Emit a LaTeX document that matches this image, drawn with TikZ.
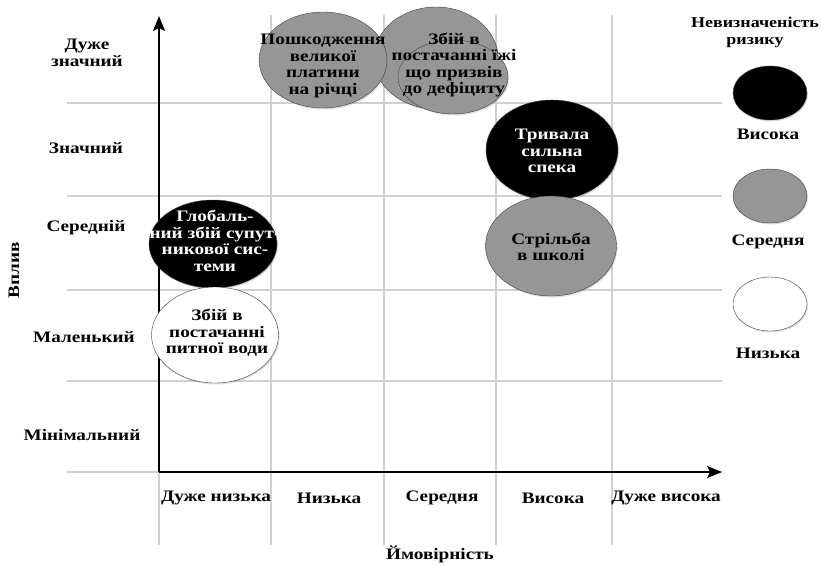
\documentclass[tikz,border=0pt]{standalone}
\usepackage{fontspec}
\setmainfont{Liberation Serif}[FakeStretch=1.2]
\usetikzlibrary{shapes.geometric,shadows,arrows.meta}
\definecolor{riskgray}{RGB}{150,150,150}
\definecolor{gridgray}{RGB}{208,208,208}

\begin{document}
\begin{tikzpicture}[x=1pt,y=-1pt,
    font=\fontsize{16}{16.5}\selectfont\bfseries,
    gridline/.style={gridgray,line width=1.2pt},
    axis/.style={line width=2.2pt,-{Stealth[length=15pt,width=12pt,inset=3pt]}},
    bubble/.style={ellipse,draw=black!75,thin,inner sep=0pt,
      drop shadow={opacity=0.25,shadow xshift=1pt,shadow yshift=-1.5pt}}]
  \useasboundingbox (0,0) rectangle (821,565);

  % grid
  \draw[gridline] (67,103) -- (722,103);
  \draw[gridline] (67,196) -- (722,196);
  \draw[gridline] (67,290) -- (722,290);
  \draw[gridline] (67,381) -- (722,381);
  \draw[gridline] (67,472) -- (722,472);
  \draw[gridline] (159,472) -- (159,545);
  \draw[gridline] (271,15) -- (271,545);
  \draw[gridline] (384,15) -- (384,545);
  \draw[gridline] (496,15) -- (496,545);
  \draw[gridline] (612,15) -- (612,545);

  % axes
  \coordinate (O) at (159,472);
  \coordinate (ytip) at (159,16);
  \coordinate (xtip) at (722,472);
  \draw[axis] (O) -- (ytip);
  \draw[axis] (O) -- (xtip);

  % row and column labels
  \begin{scope}[every node/.style={align=center}]
    \node (vduzhe) at (87,53) {Дуже\\значний};
    \node (vznach) at (86,148) {Значний};
    \node (vsered) at (86,228) {Середній};
    \node (vmal) at (84,337) {Маленький};
    \node (vmin) at (82,435) {Мінімальний};
    \node (pdnyz) at (216,498) {Дуже низька};
    \node (pnyz) at (329,498) {Низька};
    \node (psered) at (442,498) {Середня};
    \node (pvys) at (553,498) {Висока};
    \node (pdvys) at (666,498) {Дуже висока};
    \node (ymov) at (440,554) {Ймовірність};
    \node[rotate=90] (vplyv) at (14,270) {Вплив};
    \node[font=\fontsize{15}{17}\selectfont\bfseries] (legtitle) at (755,32) {Невизначеність\\ризику};
  \end{scope}

  % risk bubbles
  \node[bubble,fill=riskgray,minimum width=124pt,minimum height=102pt] (izha) at (436,58) {};
  \node[bubble,fill=riskgray,minimum width=110pt,minimum height=74pt] (izhain) at (453,77) {};
  \node[bubble,fill=riskgray,minimum width=128pt,minimum height=96pt] (platyna) at (323,60) {};
  \node[bubble,fill=black,minimum width=132pt,minimum height=100pt] (speka) at (552,150) {};
  \node[bubble,fill=riskgray,minimum width=131pt,minimum height=100pt] (strilba) at (551,246) {};
  \node[bubble,fill=black,minimum width=128pt,minimum height=88pt] (suputnyk) at (213,244) {};
  \node[bubble,fill=white,minimum width=127pt,minimum height=96pt] (voda) at (215,335) {};

  \begin{scope}[every node/.style={align=center}]
    \node (tplatyna) at (323,66) {Пошкодження\\великої\\платини\\на річці};
    \node (tizha) at (454,65) {Збій в\\постачанні їжі\\що призвів\\до дефіциту};
    \node[white] (tspeka) at (552,151) {Тривала\\сильна\\спека};
    \node (tstrilba) at (551,247) {Стрільба\\в школі};
    \node[white] (tsuputnyk) at (215,241) {Глобаль-\\ний збій супут-\\никової сис-\\теми};
    \node (tvoda) at (217,333) {Збій в\\постачанні\\питної води};
  \end{scope}

  % legend
  \node[bubble,fill=black,minimum width=74pt,minimum height=54pt] (lvys) at (770,93) {};
  \node[bubble,fill=riskgray,minimum width=74pt,minimum height=54pt] (lsered) at (770,196) {};
  \node[bubble,fill=white,minimum width=74pt,minimum height=54pt] (lnyz) at (770,304) {};
  \node (tlvys) at (768,134) {Висока};
  \node (tlsered) at (768,242) {Середня};
  \node (tlnyz) at (768,353) {Низька};
\end{tikzpicture}
\end{document}
